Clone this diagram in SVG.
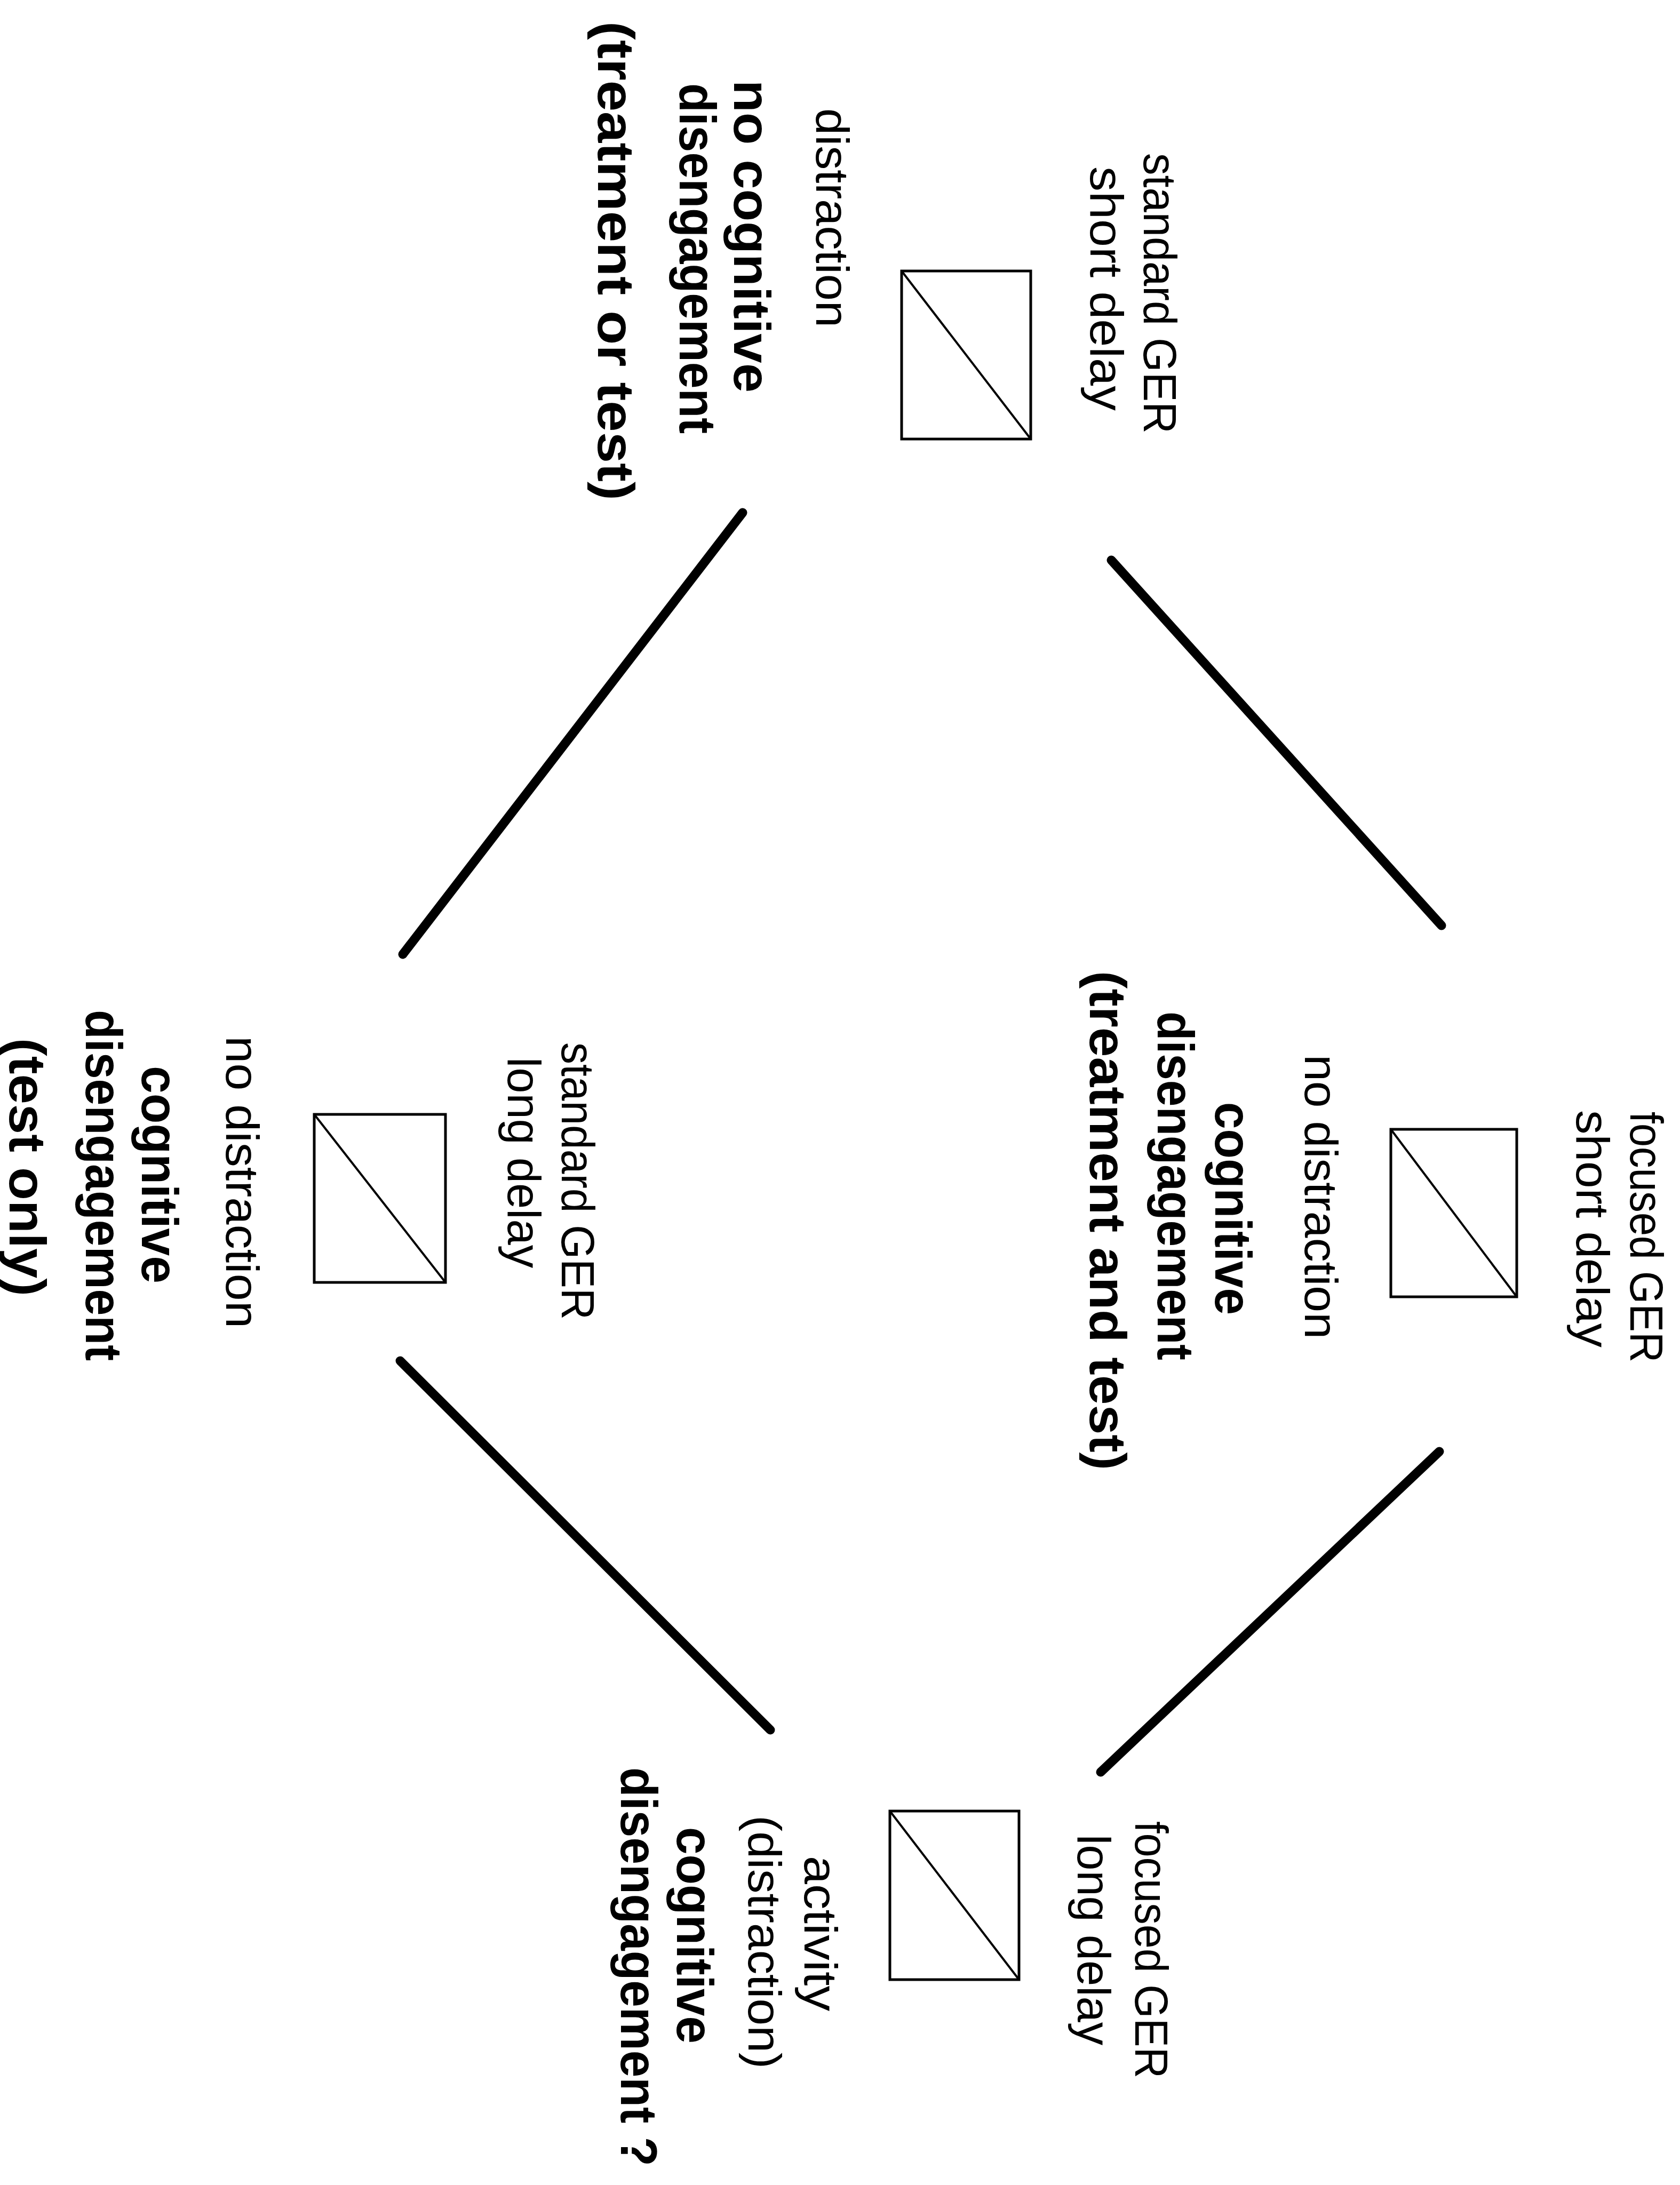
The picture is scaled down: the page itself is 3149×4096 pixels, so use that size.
<svg xmlns="http://www.w3.org/2000/svg" width="3149" height="4096" viewBox="0 0 3149 4096">
<style>
.bg{fill:#ffffff}
.box{fill:none;stroke:#000;stroke-width:5}
.diag{stroke:#000;stroke-width:4;fill:none}
.edge{stroke:#000;stroke-width:17;stroke-linecap:round;fill:none}
.r{font-family:"Liberation Sans",Arial,sans-serif;font-size:88px;fill:#000}
.b{font-family:"Liberation Sans",Arial,sans-serif;font-size:96px;font-weight:bold;fill:#000}
</style>
<rect class="bg" x="0" y="0" width="3149" height="4096"/>
<g id="connectors">
<line class="edge" x1="2083" y1="1050" x2="2702" y2="1735"/>
<line class="edge" x1="1392" y1="961" x2="755" y2="1789"/>
<line class="edge" x1="2698" y1="2721" x2="2063" y2="3322"/>
<line class="edge" x1="750" y1="2551" x2="1444" y2="3243"/>
</g>
<g id="node-top">
<rect class="box" x="1690" y="508" width="242" height="315"/>
<line class="diag" x1="1690" y1="508" x2="1932" y2="823"/>
<text class="r" transform="translate(2144,287) rotate(90)" textLength="526" lengthAdjust="spacingAndGlyphs">standard GER</text>
<text class="r" transform="translate(2044,312) rotate(90)" textLength="458" lengthAdjust="spacingAndGlyphs">short delay</text>
<text class="r" transform="translate(1530,203) rotate(90)" textLength="411" lengthAdjust="spacingAndGlyphs">distraction</text>
<text class="b" transform="translate(1376,150) rotate(90)" textLength="586" lengthAdjust="spacingAndGlyphs">no cognitive</text>
<text class="b" transform="translate(1274,156) rotate(90)" textLength="657" lengthAdjust="spacingAndGlyphs">disengagement</text>
<text class="b" transform="translate(1121,40) rotate(90)" textLength="898" lengthAdjust="spacingAndGlyphs">(treatment or test)</text>
</g>
<g id="node-right">
<rect class="box" x="2607" y="2117" width="236" height="314"/>
<line class="diag" x1="2607" y1="2117" x2="2843" y2="2431"/>
<text class="r" transform="translate(3056,2084) rotate(90)" textLength="470" lengthAdjust="spacingAndGlyphs">focused GER</text>
<text class="r" transform="translate(2955,2081) rotate(90)" textLength="445" lengthAdjust="spacingAndGlyphs">short delay</text>
<text class="r" transform="translate(2446,1977) rotate(90)" textLength="533" lengthAdjust="spacingAndGlyphs">no distraction</text>
<text class="b" transform="translate(2278,2066) rotate(90)" textLength="399" lengthAdjust="spacingAndGlyphs">cognitive</text>
<text class="b" transform="translate(2170,1896) rotate(90)" textLength="654" lengthAdjust="spacingAndGlyphs">disengagement</text>
<text class="b" transform="translate(2043,1820) rotate(90)" textLength="936" lengthAdjust="spacingAndGlyphs">(treatment and test)</text>
</g>
<g id="node-left">
<rect class="box" x="589" y="2089" width="246" height="315"/>
<line class="diag" x1="589" y1="2089" x2="835" y2="2404"/>
<text class="r" transform="translate(1053,1954) rotate(90)" textLength="520" lengthAdjust="spacingAndGlyphs">standard GER</text>
<text class="r" transform="translate(952,1982) rotate(90)" textLength="395" lengthAdjust="spacingAndGlyphs">long delay</text>
<text class="r" transform="translate(424,1942) rotate(90)" textLength="548" lengthAdjust="spacingAndGlyphs">no distraction</text>
<text class="b" transform="translate(266,1998) rotate(90)" textLength="408" lengthAdjust="spacingAndGlyphs">cognitive</text>
<text class="b" transform="translate(161,1893) rotate(90)" textLength="658" lengthAdjust="spacingAndGlyphs">disengagement</text>
<text class="b" transform="translate(18,1946) rotate(90)" textLength="484" lengthAdjust="spacingAndGlyphs">(test only)</text>
</g>
<g id="node-bottom">
<rect class="box" x="1668" y="3395" width="242" height="316"/>
<line class="diag" x1="1668" y1="3395" x2="1910" y2="3711"/>
<text class="r" transform="translate(2128,3414) rotate(90)" textLength="482" lengthAdjust="spacingAndGlyphs">focused GER</text>
<text class="r" transform="translate(2020,3439) rotate(90)" textLength="395" lengthAdjust="spacingAndGlyphs">long delay</text>
<text class="r" transform="translate(1508,3479) rotate(90)" textLength="291" lengthAdjust="spacingAndGlyphs">activity</text>
<text class="r" transform="translate(1403,3403) rotate(90)" textLength="475" lengthAdjust="spacingAndGlyphs">(distraction)</text>
<text class="b" transform="translate(1269,3425) rotate(90)" textLength="406" lengthAdjust="spacingAndGlyphs">cognitive</text>
<text class="b" transform="translate(1164,3313) rotate(90)" textLength="748" lengthAdjust="spacingAndGlyphs">disengagement ?</text>
</g>
</svg>
